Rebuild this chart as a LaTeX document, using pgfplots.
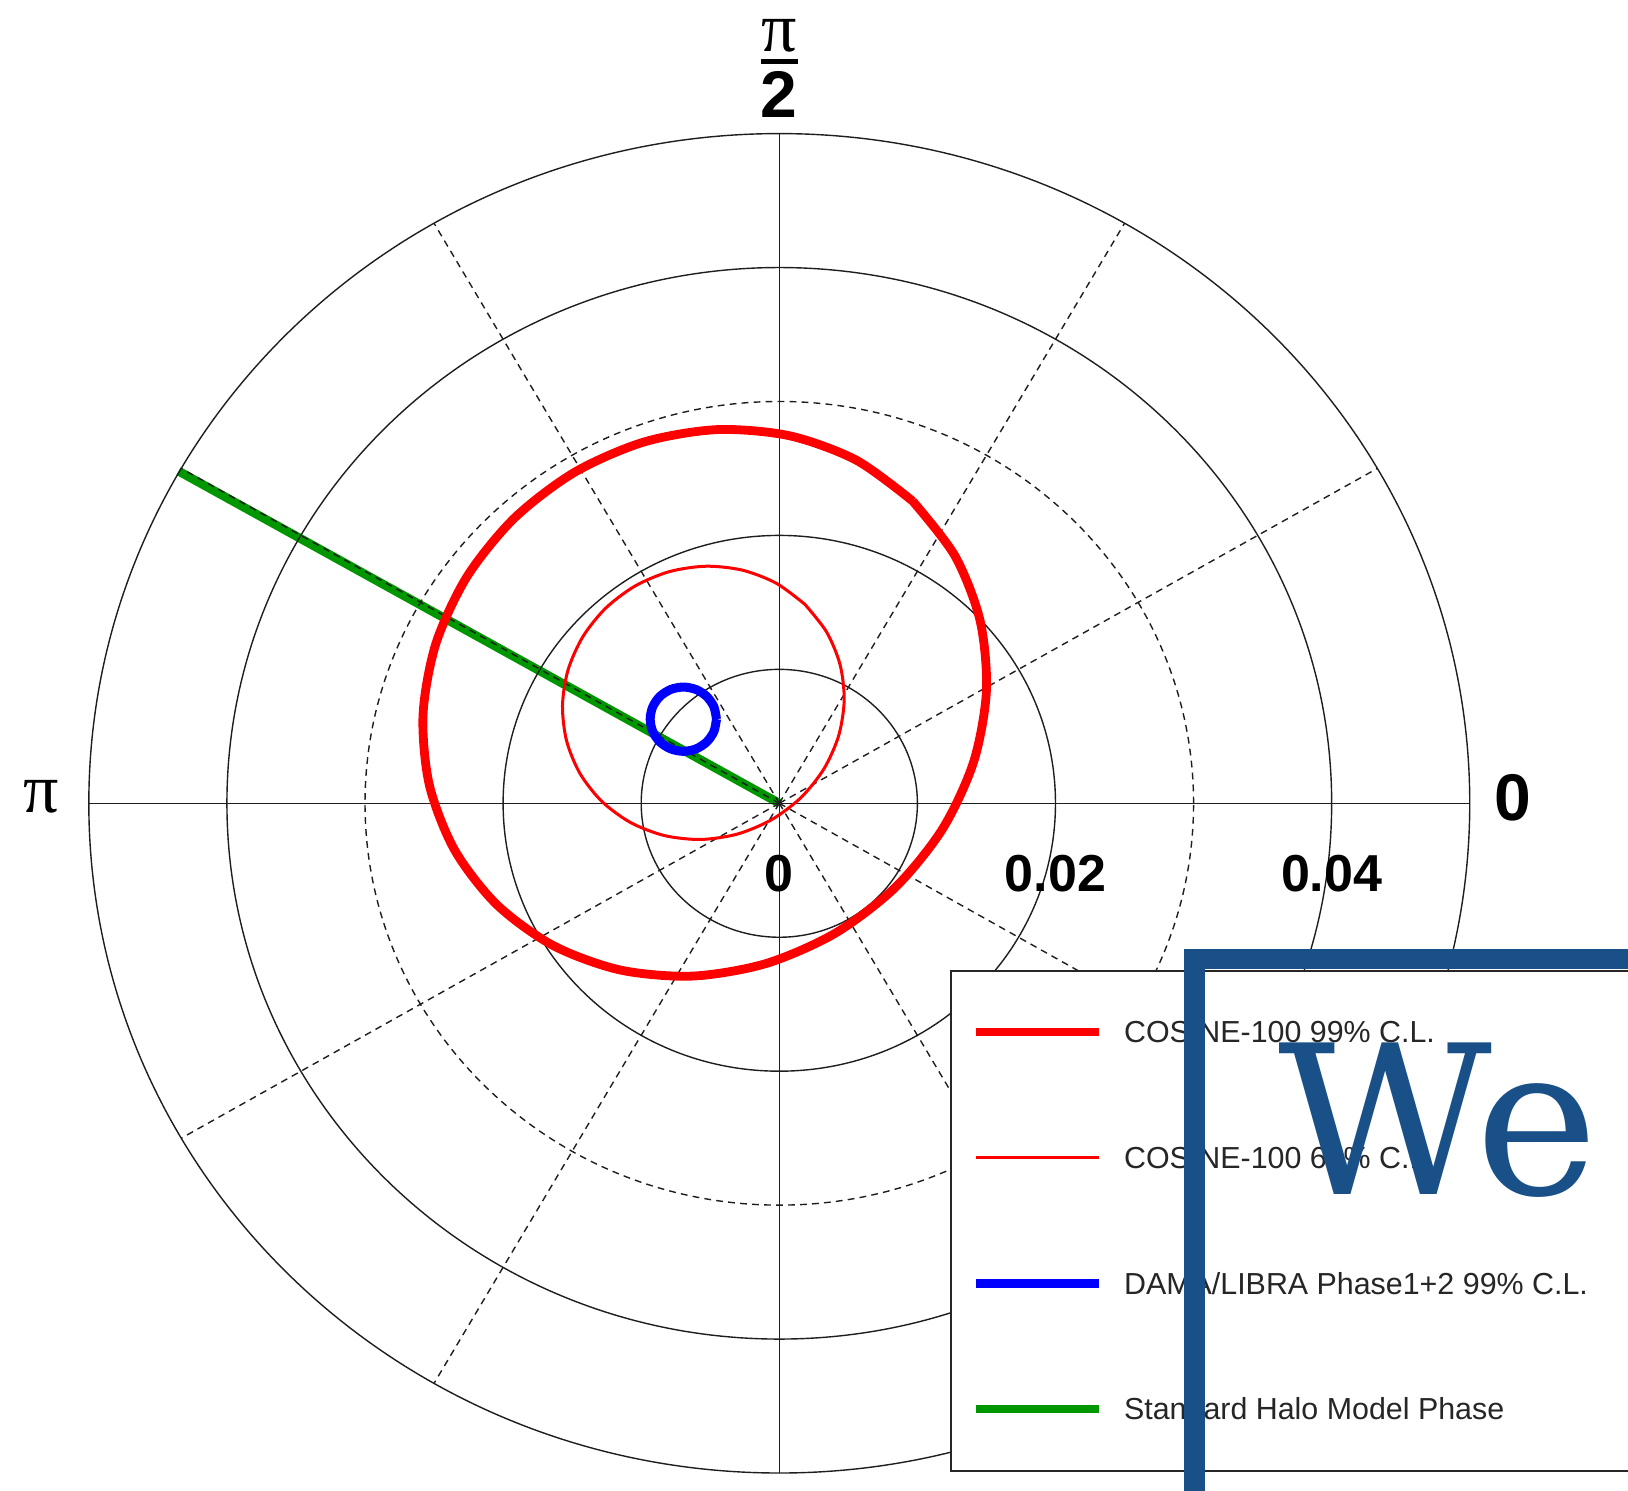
\documentclass[border=0pt]{standalone}
\usepackage{fontspec}
\setmainfont{Liberation Sans}
\newfontfamily\pifont{Liberation Serif}
\newfontfamily\wefont{DejaVu Serif}
\usepackage{pgfplots}
\pgfplotsset{compat=1.18}
\definecolor{cred}{RGB}{255,0,0}
\definecolor{cblue}{RGB}{0,0,255}
\definecolor{cgreen}{RGB}{0,150,0}
\definecolor{wblue}{RGB}{26,80,136}
\definecolor{gridc}{RGB}{30,30,30}
\begin{document}
\begin{tikzpicture}
\begin{scope}
\clip (-194.825pt,-171.675pt) rectangle (212.175pt,200.825pt);
\begin{axis}[at={(0,0)}, anchor=center, scale only axis,
  width=345.225pt, height=334.85pt,
  xmin=-0.05, xmax=0.05, ymin=-0.05, ymax=0.05,
  axis lines=none, ticks=none, clip=false]
% Standard Halo Model phase
\addplot[cgreen, line width=2.2pt] coordinates {(0,0) (-0.04350,0.02480)};
% polar grid
\draw[gridc, line width=0.35pt] (axis cs:0,0) ellipse [x radius=0.01, y radius=0.01];
\draw[gridc, line width=0.35pt] (axis cs:0,0) ellipse [x radius=0.02, y radius=0.02];
\draw[gridc, line width=0.35pt, dash pattern=on 1.7pt off 1.3pt] (axis cs:0,0) ellipse [x radius=0.03, y radius=0.03];
\draw[gridc, line width=0.35pt] (axis cs:0,0) ellipse [x radius=0.04, y radius=0.04];
\draw[gridc, line width=0.35pt] (axis cs:0,0) ellipse [x radius=0.05, y radius=0.05];
\draw[gridc, line width=0.35pt] (axis cs:-0.05,0) -- (axis cs:0.05,0);
\draw[gridc, line width=0.35pt] (axis cs:0,-0.05) -- (axis cs:0,0.05);
\pgfplotsinvokeforeach{30,60,120,150,210,240,300,330}{
  \draw[gridc, line width=0.35pt, dash pattern=on 1.7pt off 1.3pt] (axis cs:0,0) -- (axis cs:{0.05*cos(#1)},{0.05*sin(#1)});
}
% COSINE-100 99% C.L.
\addplot[cred, line width=2.2pt, line join=round, smooth] coordinates {
(0.009661,0.022561) (0.005579,0.025617) (0.000749,0.027438) (-0.004501,0.027900)
(-0.009811,0.026972) (-0.014821,0.024717) (-0.019189,0.021289) (-0.022617,0.016921)
(-0.024872,0.011911) (-0.025800,0.006601) (-0.025338,0.001351) (-0.023517,-0.003479)
(-0.020461,-0.007561) (-0.016379,-0.010617) (-0.011549,-0.012438) (-0.006299,-0.012900)
(-0.000989,-0.011972) (0.004021,-0.009717) (0.008389,-0.006289) (0.011817,-0.001921)
(0.014072,0.003089) (0.015000,0.008399) (0.014538,0.013649) (0.012717,0.018479)
(0.009661,0.022561)};
% COSINE-100 68% C.L.
\addplot[cred, line width=0.75pt, line join=round, smooth] coordinates {
(0.001854,0.014854) (-0.000226,0.016434) (-0.002667,0.017405) (-0.005300,0.017700)
(-0.007947,0.017301) (-0.010426,0.016233) (-0.012571,0.014571) (-0.014233,0.012426)
(-0.015301,0.009947) (-0.015700,0.007300) (-0.015405,0.004667) (-0.014434,0.002226)
(-0.012854,0.000146) (-0.010774,-0.001434) (-0.008333,-0.002405) (-0.005700,-0.002700)
(-0.003053,-0.002301) (-0.000574,-0.001233) (0.001571,0.000429) (0.003233,0.002574)
(0.004301,0.005053) (0.004700,0.007700) (0.004405,0.010333) (0.003434,0.012774)
(0.001854,0.014854)};
% DAMA/LIBRA Phase1+2 99% C.L.
\addplot[cblue, line width=2.25pt, smooth] coordinates {
(-0.00455,0.00628) (-0.004733,0.007198) (-0.005253,0.007977) (-0.006032,0.008497)
(-0.00695,0.00868) (-0.007868,0.008497) (-0.008647,0.007977) (-0.009167,0.007198)
(-0.00935,0.00628) (-0.009167,0.005362) (-0.008647,0.004583) (-0.007868,0.004063)
(-0.00695,0.00388) (-0.006032,0.004063) (-0.005253,0.004583) (-0.004733,0.005362)
(-0.00455,0.00628)};
% radial labels
\node[font=\bfseries\fontsize{13}{13}\selectfont] at (axis cs:0,-0.00523) {0};
\node[font=\bfseries\fontsize{13}{13}\selectfont] at (axis cs:0.02,-0.00523) {0.02};
\node[font=\bfseries\fontsize{13}{13}\selectfont] at (axis cs:0.04,-0.00523) {0.04};
% angular labels
\node[font=\bfseries\fontsize{16.5}{16.5}\selectfont] at (axis cs:0.05312,0.00043) {0};
\node[font=\pifont\fontsize{17.5}{17.5}\selectfont] at (axis cs:-0.05347,0.00049) {π};
\node[font=\pifont\fontsize{17.5}{17.5}\selectfont] at (axis cs:0,0.05731) {π};
\node[font=\bfseries\fontsize{16.5}{16.5}\selectfont] at (axis cs:0,0.05295) {2};
\draw[black, line width=1.2pt] (axis cs:-0.00134,0.05537) -- (axis cs:0.00134,0.05537);
\end{axis}
% legend
\draw[black!85, line width=0.5pt, fill=white] (42.95pt,-167pt) rectangle (260pt,-41.9pt);
\draw[cred, line width=2.1pt] (49.2pt,-57.2pt) -- (79.8pt,-57.2pt);
\draw[cred, line width=0.8pt] (49.2pt,-88.6pt) -- (79.8pt,-88.6pt);
\draw[cblue, line width=2.1pt] (49.2pt,-120pt) -- (79.8pt,-120pt);
\draw[cgreen, line width=2.1pt] (49.2pt,-151.4pt) -- (79.8pt,-151.4pt);
\begin{scope}[every node/.style={anchor=west, inner sep=0pt, font=\fontsize{7.6}{9}\selectfont, text=black!85}]
\node at (86pt,-57.2pt) {COSINE-100 99\% C.L.};
\node at (86pt,-88.6pt) {COSINE-100 68\% C.L.};
\node at (86pt,-120pt) {DAMA/LIBRA Phase1+2 99\% C.L.};
\node at (86pt,-151.4pt) {Standard Halo Model Phase};
\end{scope}
% overlay frame and text
\draw[wblue, line width=5.2pt, line join=miter] (103.7pt,-300pt) |- (320pt,-38.9pt);
\node[anchor=base west, inner sep=0pt, text=wblue, font=\wefont\fontsize{52}{52}\selectfont] at (124.5pt,-97.9pt) {We};
\end{scope}
\pgfresetboundingbox
\path[use as bounding box] (-194.825pt,-171.675pt) rectangle (212.175pt,200.825pt);
\end{tikzpicture}
\end{document}
